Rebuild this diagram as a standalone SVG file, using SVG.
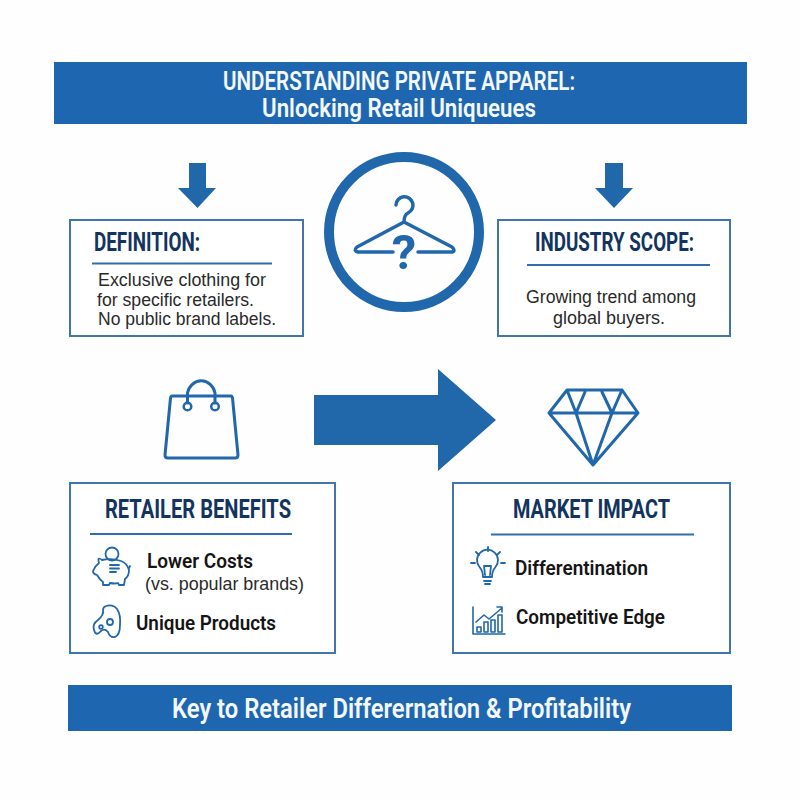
<svg xmlns="http://www.w3.org/2000/svg" width="800" height="800" viewBox="0 0 800 800">
<style>
text{font-family:Roboto,"Liberation Sans",sans-serif}
.box{fill:#fff;stroke:#3f76ad;stroke-width:2}
.rule{stroke:#2f6ea9;stroke-width:2;fill:none}
.head{font-size:25px;font-weight:700;fill:#12345f}
.body{font-family:"Liberation Sans",Arial,sans-serif;font-size:17.500px;fill:#2a2a2a}
.item{font-size:20px;font-weight:600;fill:#151515}
.banner{fill:#1e67b0}
.bt{font-weight:600;fill:#f4f8fc}
.ic{fill:none;stroke:#2167ab;stroke-linecap:round;stroke-linejoin:round}
.arrow{fill:#2168ab}
</style>
<rect width="800" height="800" fill="#fefefe"/>
<g id="title-banner">
<rect class="banner" x="54" y="62" width="693" height="62"/>
<text class="bt" x="223" y="90" font-size="25" textLength="352" lengthAdjust="spacingAndGlyphs">UNDERSTANDING PRIVATE APPAREL:</text>
<text class="bt" x="262" y="117" font-size="25" textLength="274" lengthAdjust="spacingAndGlyphs">Unlocking Retail Uniqueues</text>
</g>
<g id="connectors">
<polygon class="arrow" points="189,163 206,163 206,188 216,188 197.500,208 178,188 189,188"/>
<polygon class="arrow" points="605,163 623,163 623,188 633,188 614,208 595,188 605,188"/>
<polygon class="arrow" points="314,395 438,395 438,369 496,420 438,471 438,445 314,445"/>
</g>
<g id="hanger-icon">
<circle cx="404" cy="232" r="75" fill="none" stroke="#2167ab" stroke-width="10"/>
<path class="ic" stroke-width="3.500" d="M396,205 A8.500,8.500 0 1 1 408,213 Q404,215 404,222 L452,247 Q456,251 452,252 L418,252 M393,252 L358,252 Q353,251 357,247 L404,222"/>
<text x="404" y="269" text-anchor="middle" font-size="49" font-weight="700" fill="#2167ab">?</text>
</g>
<g id="definition">
<rect class="box" x="70" y="220" width="233" height="116"/>
<text class="head" x="94" y="251" textLength="106" lengthAdjust="spacingAndGlyphs">DEFINITION:</text>
<line class="rule" x1="92" y1="263.500" x2="272" y2="263.500"/>
<text class="body" x="98" y="286" textLength="168" lengthAdjust="spacingAndGlyphs">Exclusive clothing for</text>
<text class="body" x="97" y="306" textLength="157" lengthAdjust="spacingAndGlyphs">for specific retailers.</text>
<text class="body" x="98" y="325" textLength="178" lengthAdjust="spacingAndGlyphs">No public brand labels.</text>
</g>
<g id="industry-scope">
<rect class="box" x="498" y="220" width="232" height="116"/>
<text class="head" x="535" y="251" textLength="159" lengthAdjust="spacingAndGlyphs">INDUSTRY SCOPE:</text>
<line class="rule" x1="527" y1="265" x2="710" y2="265"/>
<text class="body" x="526" y="303" textLength="170" lengthAdjust="spacingAndGlyphs">Growing trend among</text>
<text class="body" x="553" y="324" textLength="112" lengthAdjust="spacingAndGlyphs">global buyers.</text>
</g>
<g id="bag-icon">
<path class="ic" stroke-width="3" d="M172,396 L231,396 Q232,396 232.500,398 L238,455 Q238,458 235,458 L168,458 Q165,458 165,455 L170.500,398 Q171,396 172,396 Z"/>
<path class="ic" stroke-width="3" d="M187.500,403 L187.500,393 A14,15 0 0 1 215,393 L215,403"/>
<circle class="ic" stroke-width="2.500" cx="187.500" cy="406.500" r="3.800"/>
<circle class="ic" stroke-width="2.500" cx="215" cy="406.500" r="3.800"/>
</g>
<g id="diamond-icon">
<path class="ic" stroke-width="3" d="M567,390 L622,390 L638,413 L593,465 L549,413 Z M549,413 L638,413 M567,390 L576,413 L593,465 L612,413 L622,390 M585,392 L576,413 M602,392 L612,413"/>
</g>
<g id="retailer-benefits">
<rect class="box" x="70" y="483" width="265" height="170"/>
<text class="head" x="105" y="518" textLength="186" lengthAdjust="spacingAndGlyphs">RETAILER BENEFITS</text>
<line class="rule" x1="90" y1="534" x2="292" y2="534"/>
<g id="piggy-icon" class="ic" stroke-width="1.800">
<circle cx="112" cy="554" r="6.500"/>
<path d="M102,560 Q97,556 99,563 Q95,566 93,571 Q93,574 97,575 Q100,580 103,582 L103,585 L109,585 L110,583 Q115,584 118,583 L119,585 L124,585 L125,579 Q129,576 129,570 Q127,563 121,561 Q112,558 102,560 Z"/>
<path d="M129,568 L130,566 M110,565 L119,565 M110,568.500 L119,568.500 M110,572 L116,572"/>
</g>
<text class="item" x="147" y="568" textLength="106" lengthAdjust="spacingAndGlyphs">Lower Costs</text>
<text class="body" x="145" y="590" textLength="159" lengthAdjust="spacingAndGlyphs">(vs. popular brands)</text>
<g id="blob-icon" class="ic" stroke-width="1.800">
<path d="M106,606 Q113,604 117,609 Q121,615 120,625 Q120,635 115,637 Q110,638 108,632 Q105,628 101,631 Q96,637 94,630 Q92,624 98,620 Q104,615 103,610 Q103,607 106,606 Z"/>
<circle cx="110" cy="622" r="3"/>
<circle cx="101" cy="627" r="1.800"/>
</g>
<text class="item" x="136" y="630" textLength="140" lengthAdjust="spacingAndGlyphs">Unique Products</text>
</g>
<g id="market-impact">
<rect class="box" x="453" y="483" width="277" height="170"/>
<text class="head" x="513" y="518" textLength="157" lengthAdjust="spacingAndGlyphs">MARKET IMPACT</text>
<line class="rule" x1="491" y1="534.500" x2="694" y2="534.500"/>
<g id="bulb-icon" class="ic" stroke-width="1.800">
<path d="M483,577 Q483,571 479.500,567 A10.500,10.500 0 1 1 495.500,567 Q492,571 492,577 Z"/>
<path d="M484,581 L491,581 M485,584 L490,584 M485,575 L484,566 L491,566 L490,575"/>
<path d="M488,547 L488,551 M476,552 L479,555 M500,552 L497,555 M471,563 L475,563 M501,563 L505,563"/>
</g>
<text class="item" x="515" y="575" textLength="133" lengthAdjust="spacingAndGlyphs">Differentination</text>
<g id="chart-icon" class="ic" stroke-width="1.600">
<path d="M473,607 L473,634 L505,634"/>
<path d="M476,622 L484,615 L489,619 L502,608 M497,607 L502,607 L502,612"/>
<rect x="477" y="627" width="4" height="5"/>
<rect x="484" y="622" width="4" height="10"/>
<rect x="491" y="620" width="4" height="12"/>
<rect x="498" y="615" width="4" height="17"/>
</g>
<text class="item" x="516" y="624" textLength="149" lengthAdjust="spacingAndGlyphs">Competitive Edge</text>
</g>
<g id="footer-banner">
<rect class="banner" x="68" y="685" width="664" height="46"/>
<text class="bt" x="172" y="718" font-size="27" textLength="459" lengthAdjust="spacingAndGlyphs">Key to Retailer Differernation &amp; Profitability</text>
</g>
</svg>
